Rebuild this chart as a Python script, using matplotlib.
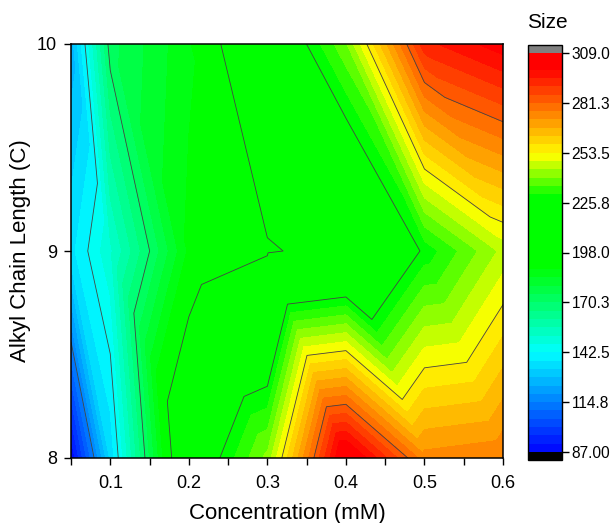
import numpy as np
import matplotlib
matplotlib.use("Agg")
import matplotlib.pyplot as plt
import matplotlib.tri as mtri
from matplotlib.colors import ListedColormap, BoundaryNorm

plt.rcParams['font.family'] = ['Liberation Sans', 'DejaVu Sans']

# measured grid (Origin triangulated contour)
conc = [0.05, 0.1, 0.2, 0.3, 0.4, 0.5, 0.6]
chain = [8, 9, 10]
size_c8 = [87.0, 134.2, 215.8, 241.0, 309.0, 273.8, 276.1]
size_c9 = [136.4, 150.7, 189.7, 197.0, 202.0, 227.2, 245.6]
size_c10 = [125.6, 173.1, 188.0, 212.6, 239.0, 293.6, 302.7]

cbar_ticks = [87.0, 114.75, 142.5, 170.25, 198.0, 225.75, 253.5, 281.25, 309.0]
cbar_labels = ['87.00', '114.8', '142.5', '170.3', '198.0', '225.8', '253.5', '281.3', '309.0']
xtick_vals = [0.1, 0.2, 0.3, 0.4, 0.5, 0.6]

# palette anchors (value -> rgb)
pal_v = [87, 142.5, 190, 229, 252, 300, 309]
pal_rgb = [(0, 0, 255), (0, 255, 255), (0, 255, 0), (0, 255, 0),
           (255, 255, 0), (255, 0, 0), (255, 0, 0)]

zmin, zmax = cbar_ticks[0], cbar_ticks[-1]
levels = np.linspace(zmin, zmax, 49)
mids = 0.5 * (levels[:-1] + levels[1:])
pal = np.array(pal_rgb) / 255.0
band_cols = np.column_stack([np.interp(mids, pal_v, pal[:, k]) for k in range(3)])
cmap = ListedColormap(band_cols)
cmap.set_under('black')
cmap.set_over('#808080')
norm = BoundaryNorm(levels, cmap.N)

# build triangulation, "\" diagonal in every cell
nx, ny = len(conc), len(chain)
X, Y = np.meshgrid(conc, chain)
Z = np.array([size_c8, size_c9, size_c10])
tris = []
for j in range(ny - 1):
    for i in range(nx - 1):
        bl = j * nx + i
        br = bl + 1
        tl = bl + nx
        tr = tl + 1
        tris.append([bl, br, tl])
        tris.append([br, tr, tl])
tri = mtri.Triangulation(X.ravel(), Y.ravel(), tris)

fig = plt.figure(figsize=(6.11, 5.23), dpi=100)
ax = fig.add_axes([71 / 611, 65 / 523, 432 / 611, 414 / 523])
cs = ax.tricontourf(tri, Z.ravel(), levels=levels, cmap=cmap, norm=norm, extend='both')
ax.tricontour(tri, Z.ravel(), levels=cbar_ticks[1:-1], colors='#444444', linewidths=0.6)

ax.set_xlim(0.05, 0.6)
ax.set_ylim(8, 10)
ax.set_xticks(xtick_vals)
ax.set_xticklabels([f'{v:.1f}' for v in xtick_vals])
ax.set_xticks(np.arange(0.05, 0.6, 0.1), minor=True)
ax.set_yticks(chain)
ax.tick_params(which='both', direction='out', length=5, width=1, labelsize=13)
ax.tick_params(axis='x', pad=7)
ax.tick_params(axis='y', pad=5)
for s in ax.spines.values():
    s.set_linewidth(1.1)
ax.set_xlabel('Concentration (mM)', fontsize=16, labelpad=8)
ax.set_ylabel('Alkyl Chain Length (C)', fontsize=16, labelpad=4)

cax = fig.add_axes([528 / 611, 63 / 523, 34 / 611, 415 / 523])
cb = fig.colorbar(cs, cax=cax, extendrect=True, extendfrac=0.02)
cb.set_ticks(cbar_ticks)
cb.set_ticklabels(cbar_labels)
cb.ax.tick_params(direction='out', length=5, width=1, labelsize=11.2, pad=2)
cb.outline.set_linewidth(1.0)
cb.ax.minorticks_off()
fig.text(547 / 611, 0.957, 'Size', fontsize=15, ha='center', va='center')

fig.savefig('out.png', dpi=100)
